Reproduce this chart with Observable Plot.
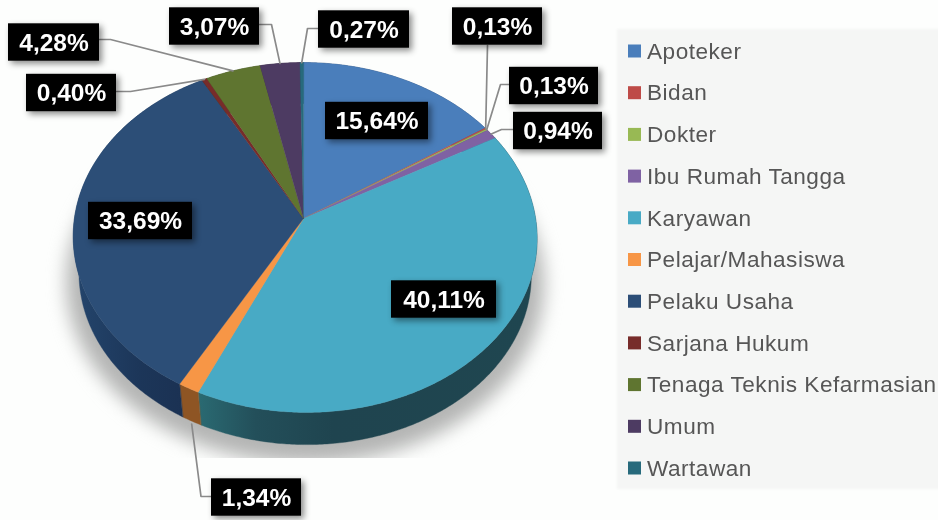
<!DOCTYPE html>
<html>
<head>
<meta charset="utf-8">
<script src="https://cdn.jsdelivr.net/npm/d3@7"></script>
<script src="https://cdn.jsdelivr.net/npm/@observablehq/plot@0.6"></script>
<style>
html,body{margin:0;padding:0;background:#fdfefd;overflow:hidden}
svg{display:block;filter:blur(.35px)}
</style>
</head>
<body>
<div id="chart"></div>
<script>
// Data
const categories = ["Apoteker","Bidan","Dokter","Ibu Rumah Tangga","Karyawan","Pelajar/Mahasiswa","Pelaku Usaha","Sarjana Hukum","Tenaga Teknis Kefarmasian","Umum","Wartawan"];
const percents = [15.64,0.13,0.13,0.94,40.11,1.34,33.69,0.40,4.28,3.07,0.27];
const percentLabels = ["15,64%","0,13%","0,13%","0,94%","40,11%","1,34%","33,69%","0,40%","4,28%","3,07%","0,27%"];

// Styles
const topColors = ["#4a7ebb","#be4b48","#98b954","#7f62a3","#48aac5","#f79646","#2c4e77","#772c2a","#5f7530","#4d3b62","#276a7c"];
const sideColors = ["#2c4d75","#772c2a","#5f7530","#4d3b62","url(#karyawanSide)","#8e5524","url(#usahaSide)","#4a1b1a","#3b491e","#30253d","#18424d"];

// Placement of the annotation boxes (centre) and leader elbow
const labelBoxes = [
  {cx:376.5,cy:120.5,w:103},{cx:497,cy:26,w:90,elbow:[487,45],from:[487,45]},{cx:553.5,cy:85.5,w:89,elbow:[500,84],from:[509,84]},
  {cx:557.5,cy:130.5,w:89,elbow:[501,129],from:[513,129]},{cx:443.5,cy:299,w:105},{cx:256,cy:497,w:90,elbow:[200.5,496],from:[211,496]},
  {cx:140,cy:220.5,w:104},{cx:71,cy:92.5,w:90,elbow:[130,91],from:[116,91]},{cx:53.5,cy:42,w:91,elbow:[110,39],from:[99,39]},
  {cx:214,cy:26,w:90,elbow:[271,24],from:[259,24]},{cx:363.5,cy:29,w:91,elbow:[307,28],from:[318,28]}
];

// Tilted pie with perspective: theta is clockwise from the top, in radians
const apex = [303,218], depth = 37, baseGrow = 0.975;
function project(theta, drop = 0, grow = 1) {
  const u = Math.sin(theta), v = -Math.cos(theta), w = 1 - 0.1086 * v;
  return {
    x: apex[0] + grow * 230.6 * u / w + 1.5 * (1 + v),
    y: apex[1] + grow * 172.9 * v / w + drop
  };
}
const total = d3.sum(percents);
const cums = d3.cumsum(percents);
const slices = categories.map((name, i) => {
  const a1 = (cums[i] - percents[i]) / total * 2 * Math.PI;
  const a2 = cums[i] / total * 2 * Math.PI;
  const n = Math.max(2, Math.ceil((a2 - a1) / 0.01));
  const arc = d3.range(n + 1).map(k => a1 + (a2 - a1) * k / n);
  return {name, i, a1, a2, mid: (a1 + a2) / 2, arc};
});
const closed = {curve: "linear-closed", x: "x", y: "y"};
const topFace = s => [{x: apex[0], y: apex[1]}, ...s.arc.map(a => project(a))];
const sideWall = s => [...s.arc.map(a => project(a)), ...s.arc.slice().reverse().map(a => project(a, depth, baseGrow))];
const circle = d3.range(0, 2 * Math.PI, 0.02).map(a => project(a, 45, 1.03));

const rowY = i => 51 + i * 41.7;
const legendRows = categories.map((name, i) => ({name, i, y: rowY(i)}));
const leaders = slices.filter(s => labelBoxes[s.i].elbow).map(s => {
  const b = labelBoxes[s.i];
  const end = s.name.startsWith("Pelajar") ? project(s.mid, depth + 3, baseGrow) : project(s.mid);
  return {i: s.i, pts: [{x: b.from[0], y: b.from[1]}, {x: b.elbow[0], y: b.elbow[1]}, end]};
});

const chart = Plot.plot({
  width: 938, height: 520, margin: 0,
  x: {domain: [0, 938], range: [0, 938], axis: null},
  y: {domain: [0, 520], range: [0, 520], axis: null},
  style: {background: "transparent", fontFamily: "'Liberation Sans', Arial, sans-serif"},
  marks: [
    // legend panel
    Plot.rect([0], {x1: 617, x2: 950, y1: 29, y2: 489, fill: "#f5f6f5", imageFilter: "blur(1px)"}),
    // ground shadow
    Plot.line(circle, {...closed, fill: "#b4b5b4", stroke: "none", imageFilter: "blur(9px)"}),
    Plot.rect([0], {x1: 0, x2: 610, y1: 458, y2: 530, fill: "#fdfefd"}),
    // side walls
    ...slices.map(s => Plot.line(sideWall(s), {...closed, fill: sideColors[s.i], stroke: sideColors[s.i], strokeWidth: 0.4})),
    // top faces
    ...slices.map(s => Plot.line(topFace(s), {...closed, fill: topColors[s.i], stroke: topColors[s.i], strokeWidth: 0.3})),
    // leaders
    ...leaders.map(l => Plot.line(l.pts, {x: "x", y: "y", stroke: "#8a8a8a", strokeWidth: 1.7, curve: "linear"})),
    // percentage labels
    Plot.rect(labelBoxes, {
      x1: d => d.cx - d.w / 2, x2: d => d.cx + d.w / 2, y1: d => d.cy - 18.7, y2: d => d.cy + 18.7,
      fill: "#000", imageFilter: "drop-shadow(3px 3px 3px rgba(0,0,0,.45))"
    }),
    Plot.text(labelBoxes, {
      x: "cx", y: d => d.cy + 0.5, text: (d, i) => percentLabels[i], fill: "#fff",
      fontSize: 24.5, fontWeight: "bold", textAnchor: "middle", lineAnchor: "middle"
    }),
    // legend
    Plot.rect(legendRows, {x1: 628, x2: 641, y1: d => d.y - 6.5, y2: d => d.y + 6.5, fill: d => topColors[d.i]}),
    Plot.text(legendRows, {x: 646.5, y: "y", text: "name", fill: "#565656", fontSize: 22.6, textAnchor: "start", lineAnchor: "middle"})
  ]
});

// gradients for the two large side walls
const defs = d3.select(chart).insert("defs", ":first-child");
const grad = (id, stops) => {
  const g = defs.append("linearGradient").attr("id", id).attr("x1", 0).attr("x2", 1).attr("y1", 0).attr("y2", 0);
  stops.forEach(([o, c]) => g.append("stop").attr("offset", o).attr("stop-color", c));
};
grad("karyawanSide", [[0, "#2a6a72"], [0.17, "#234f5a"], [0.4, "#1f444f"], [1, "#1f4650"]]);
grad("usahaSide", [[0, "#24456c"], [0.5, "#1c3659"], [1, "#1a2f50"]]);

// legend text is slightly tracked out in the reference
d3.select(chart).selectAll("text").filter(function () { return categories.includes(this.textContent); }).style("letter-spacing", "0.5px");

document.getElementById("chart").appendChild(chart);
</script>
</body>
</html>
